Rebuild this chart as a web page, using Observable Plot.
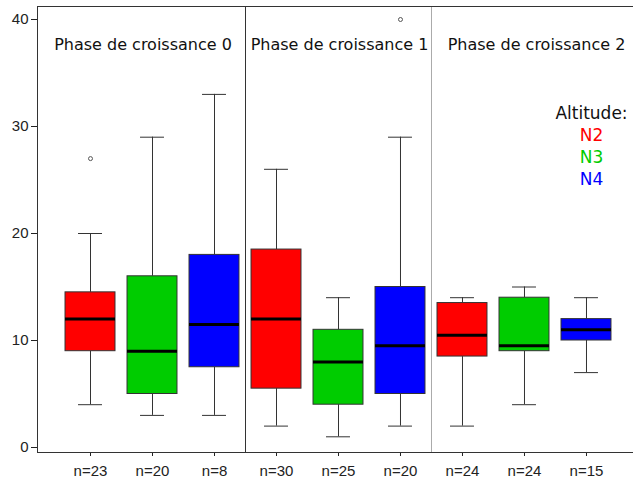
<!DOCTYPE html>
<html>
<head>
<meta charset="utf-8">
<script src="https://cdn.jsdelivr.net/npm/d3@7"></script>
<script src="https://cdn.jsdelivr.net/npm/@observablehq/plot@0.6"></script>
<style>
  html, body { margin: 0; padding: 0; background: white; }
  #chart svg { display: block; }
</style>
</head>
<body>
<div id="chart"></div>
<script>
// ---- data ----
const phases = ["Phase de croissance 0", "Phase de croissance 1", "Phase de croissance 2"];
const altitudes = ["N2", "N3", "N4"];
const altitudeColors = ["#ff0000", "#00cc00", "#0000ff"];
const legendTitle = "Altitude:";
const counts        = [23, 20, 8,   30, 25, 20,   24, 24, 15];
const lowerWhisker  = [4,  3,  3,   2,  1,  2,    2,  4,  7];
const q1            = [9,  5,  7.5, 5.5, 4, 5,    8.5, 9, 10];
const median        = [12, 9,  11.5, 12, 8, 9.5,  10.5, 9.5, 11];
const q3            = [14.5, 16, 18, 18.5, 11, 15, 13.5, 14, 12];
const upperWhisker  = [20, 29, 33,  26, 14, 29,   14, 15, 14];
const outlierBox    = [0, 5];
const outlierValue  = [27, 40];
const yTicks = [0, 10, 20, 30, 40];

// ---- build table ----
const boxes = counts.map((n, i) => ({
  key: i, phase: Math.floor(i / 3), alt: altitudes[i % 3], n,
  lo: lowerWhisker[i], q1: q1[i], med: median[i], q3: q3[i], hi: upperWhisker[i]
}));
const outliers = outlierBox.map((b, i) => ({key: b, value: outlierValue[i]}));
const phaseStarts = phases.map((p, i) => i * 3);
const titleDx = [-9.5, 1, 12];

const chart = Plot.plot({
  width: 633,
  height: 481,
  marginTop: 6,
  marginBottom: 29,
  marginLeft: 37,
  marginRight: -6,
  style: {fontFamily: "'Liberation Sans', Arial, sans-serif", fontSize: "15px", color: "#222", background: "white"},
  x: {type: "band", domain: boxes.map(d => d.key), range: [37, 639], round: false,
      paddingInner: 0.194, paddingOuter: 0.452,
      tickFormat: i => "n=" + counts[i], tickSize: 4, tickPadding: 9, label: null},
  y: {domain: [-0.467, 41.215], ticks: yTicks, tickSize: 6, tickPadding: 3, label: null},
  color: {domain: altitudes, range: altitudeColors},
  marks: [
    Plot.ruleX([phaseStarts[1]], {x: d => d, dx: -31, stroke: "#333"}),
    Plot.ruleX([phaseStarts[2]], {x: d => d, dx: -31, stroke: "#aaa"}),
    Plot.frame({stroke: "#333"}),
    Plot.ruleX(boxes, {x: "key", y1: "q3", y2: "hi", stroke: "#333"}),
    Plot.ruleX(boxes, {x: "key", y1: "lo", y2: "q1", stroke: "#333"}),
    Plot.tickY(boxes, {x: "key", y: "hi", stroke: "#333", insetLeft: 13, insetRight: 13}),
    Plot.tickY(boxes, {x: "key", y: "lo", stroke: "#333", insetLeft: 13, insetRight: 13}),
    Plot.barY(boxes, {x: "key", y1: "q1", y2: "q3", fill: "alt", stroke: "#333", strokeWidth: 1}),
    Plot.tickY(boxes, {x: "key", y: "med", stroke: "black", strokeWidth: 3}),
    Plot.dot(outliers, {x: "key", y: "value", r: 2, stroke: "#555", fill: "white", strokeWidth: 1}),
    ...phases.map((p, i) => Plot.text([p], {
      x: () => phaseStarts[i] + 1, frameAnchor: "top", dy: 38, dx: titleDx[i],
      text: d => d, fontFamily: "'DejaVu Sans', sans-serif", fontSize: 16, fill: "#111",
      textAnchor: "middle", lineAnchor: "middle"
    })),
    Plot.text([legendTitle], {frameAnchor: "top-right", dx: -48, dy: 107, text: d => d,
      fontFamily: "'DejaVu Sans', sans-serif", fontSize: 17, fill: "#111",
      textAnchor: "middle", lineAnchor: "middle"}),
    ...altitudes.map((a, i) => Plot.text([a], {frameAnchor: "top-right", dx: -48, dy: 129 + 22 * i,
      text: d => d, fontFamily: "'DejaVu Sans', sans-serif", fontSize: 17, fill: altitudeColors[i],
      textAnchor: "middle", lineAnchor: "middle"}))
  ]
});
document.getElementById("chart").appendChild(chart);
</script>
</body>
</html>
